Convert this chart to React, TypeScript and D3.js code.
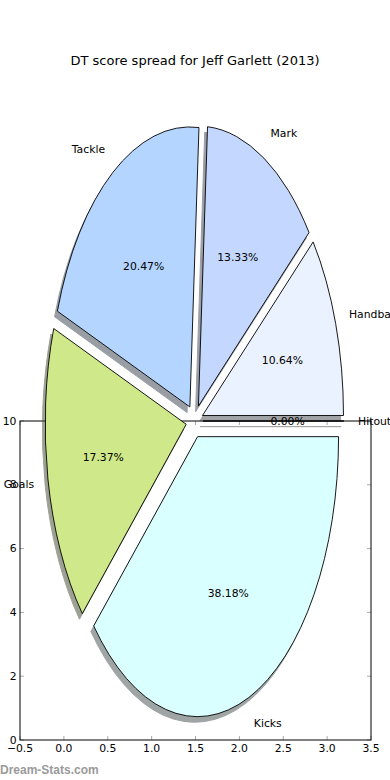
import React from "react";
import * as d3 from "d3";

const TITLE = "DT score spread for Jeff Garlett (2013)";
const CATEGORIES = ["Hitout", "Handball", "Mark", "Tackle", "Goals", "Kicks"];
const VALUES = [0, 10.64, 13.33, 20.47, 17.37, 38.18];
const COLORS = ["#ffffff", "#eaf1ff", "#c4d8ff", "#b3d5ff", "#cfe98a", "#d9ffff"];
const EXPLODE = [0.06, 0.06, 0.06, 0.06, 0.06, 0.06];
const X_TICKS = [-0.5, 0, 0.5, 1, 1.5, 2, 2.5, 3, 3.5];
const Y_TICKS = [0, 2, 4, 6, 8, 10];

const FONT = "DejaVu Sans";
const FS = 10.8;

export default function App() {
  const W = 390, H = 780;
  const x = d3.scaleLinear().domain([-0.5, 3.5]).range([20, 371]);
  const y = d3.scaleLinear().domain([0, 10]).range([740, 421]);

  const cx = 194.5, cy = 421, rx = 141, ry = 280;
  const px = d3.scaleLinear().domain([-1, 1]).range([cx - rx, cx + rx]);
  const py = d3.scaleLinear().domain([-1, 1]).range([cy + ry, cy - ry]);

  const total = d3.sum(VALUES);
  const arcs = d3.pie<number>().sort(null).value((d) => d).startAngle(0).endAngle(2 * Math.PI)(VALUES);

  const wedgePath = (t1: number, t2: number, ox: number, oy: number) => {
    const x0 = px(ox), y0 = py(oy);
    const x1 = px(ox + Math.cos(t1)), y1 = py(oy + Math.sin(t1));
    const x2 = px(ox + Math.cos(t2)), y2 = py(oy + Math.sin(t2));
    const large = t2 - t1 > Math.PI ? 1 : 0;
    if (t2 - t1 < 1e-9) return `M${x0},${y0}L${x1},${y1}Z`;
    return `M${x0},${y0}L${x1},${y1}A${rx},${ry} 0 ${large} 0 ${x2},${y2}Z`;
  };

  const wedges = arcs.map((a, i) => {
    const t1 = a.startAngle, t2 = a.endAngle;
    const tm = (t1 + t2) / 2;
    const ox = EXPLODE[i] * Math.cos(tm), oy = EXPLODE[i] * Math.sin(tm);
    const c = d3.rgb(COLORS[i]);
    const sc = d3.rgb(c.r * 0.3, c.g * 0.3, c.b * 0.3).toString();
    const lx = ox + 1.1 * Math.cos(tm), ly = oy + 1.1 * Math.sin(tm);
    return {
      i,
      path: wedgePath(t1, t2, ox, oy),
      shadow: wedgePath(t1, t2, ox - 0.02, oy - 0.02),
      sc,
      label: CATEGORIES[i],
      lx: px(lx), ly: py(ly), anchor: lx > 0 ? "start" : "end",
      pct: d3.format(".2f")((VALUES[i] / total) * 100) + "%",
      pxp: px(ox + 0.6 * Math.cos(tm)), pyp: py(oy + 0.6 * Math.sin(tm)),
    };
  });

  const fmtX = (v: number) => d3.format(".1f")(v).replace("-", "\u2212");

  return (
    <svg width={W} height={H} style={{ position: "absolute", left: 0, top: 0, background: "#fff" }} fontFamily={FONT}>
      <rect x={0} y={0} width={W} height={H} fill="#fff" />
      <text x={195} y={65} textAnchor="middle" fontSize={13} fill="#000">{TITLE}</text>

      {/* frame axes */}
      <g>
        {X_TICKS.map((t) => (
          <g key={"x" + t}>
            <line x1={x(t)} x2={x(t)} y1={740} y2={736} stroke="#aaa" strokeWidth={1} />
            <line x1={x(t)} x2={x(t)} y1={421} y2={425} stroke="#aaa" strokeWidth={1} />
            <text x={x(t)} y={752} textAnchor="middle" fontSize={FS}>{fmtX(t)}</text>
          </g>
        ))}
        {Y_TICKS.map((t) => (
          <g key={"y" + t}>
            <line x1={20} x2={24} y1={y(t)} y2={y(t)} stroke="#aaa" strokeWidth={1} />
            <line x1={371} x2={367} y1={y(t)} y2={y(t)} stroke="#aaa" strokeWidth={1} />
            <text x={16.5} y={y(t)} textAnchor="end" dominantBaseline="central" fontSize={FS}>{String(t)}</text>
          </g>
        ))}
        <rect x={20} y={421} width={351} height={319} fill="none" stroke="#000" strokeWidth={1} />
      </g>

      {/* pie */}
      <g>
        {wedges.map((w) => (
          <path key={"s" + w.i} d={w.shadow} fill={w.sc} stroke={w.sc} strokeWidth={1} opacity={0.5} />
        ))}
        {wedges.map((w) => (
          <path key={"w" + w.i} d={w.path} fill={COLORS[w.i]} stroke="#000" strokeWidth={0.9} strokeLinejoin="miter" />
        ))}
        {wedges.map((w) => (
          <g key={"t" + w.i}>
            <text x={w.lx} y={w.ly} textAnchor={w.anchor} dominantBaseline="central" fontSize={FS}>{w.label}</text>
            <text x={w.pxp} y={w.pyp} textAnchor="middle" dominantBaseline="central" fontSize={FS}>{w.pct}</text>
          </g>
        ))}
      </g>

      <text x={0} y={774} fontFamily="Liberation Sans" fontWeight="bold" fontSize={12} fill="#9a9a9a">Dream-Stats.com</text>
    </svg>
  );
}
